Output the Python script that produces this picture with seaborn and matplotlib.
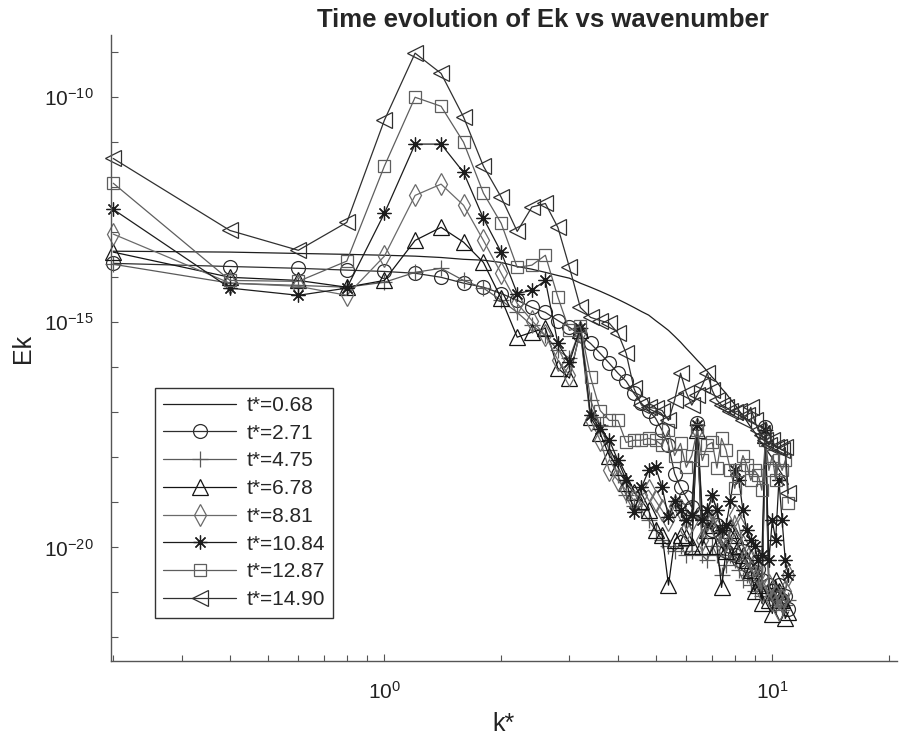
import numpy as np
import pandas as pd
import matplotlib
matplotlib.use("Agg")
import matplotlib.pyplot as plt
import matplotlib.ticker as mticker
import seaborn as sns

# wavenumbers k*
k = [0.2, 0.4, 0.6, 0.8, 1.0, 1.2, 1.4, 1.6, 1.8, 2.0,
     2.2, 2.4, 2.6, 2.8, 3.0, 3.2, 3.4, 3.6, 3.8, 4.0,
     4.2, 4.4, 4.6, 4.8, 5.0, 5.2, 5.4, 5.6, 5.8, 6.0,
     6.2, 6.4, 6.6, 6.8, 7.0, 7.2, 7.4, 7.6, 7.8, 8.0,
     8.2, 8.4, 8.6, 8.8, 9.0, 9.2, 9.4, 9.6, 9.8, 10.0,
     10.2, 10.4, 10.6, 10.8, 11.0]

# log10(Ek) for each time
e_068 = [-13.42, -13.44, -13.47, -13.49, -13.51, -13.53, -13.56, -13.60, -13.62, -13.67,
         -13.76, -13.82, -13.89, -13.96, -14.02, -14.13, -14.22, -14.31, -14.40, -14.49,
         -14.58, -14.67, -14.76, -14.84, -14.96, -15.07, -15.18, -15.31, -15.44, -15.58,
         -15.71, -15.84, -15.96, -16.09, -16.22, -16.33, -16.47, -16.58, -16.71, -16.82,
         -16.96, -17.07, -17.20, -17.33, -17.44, -17.58, -17.69, -17.80, -17.91, -18.02,
         -18.13, -18.27, -18.38, -18.49, -18.60]
e_271 = [-13.69, -13.76, -13.80, -13.84, -13.87, -13.91, -14.00, -14.13, -14.22, -14.36,
         -14.51, -14.67, -14.78, -14.96, -15.11, -15.29, -15.47, -15.69, -15.91, -16.13,
         -16.31, -16.58, -16.80, -16.96, -17.13, -17.40, -17.73, -18.36, -18.67, -18.89,
         -19.11, -17.24, -19.24, -19.40, -19.62, -19.51, -19.84, -20.07, -19.96, -20.18,
         -20.29, -20.07, -20.40, -20.51, -20.62, -20.47, -20.73, -17.33, -20.84, -20.96,
         -21.07, -20.84, -21.18, -21.07, -21.36]
e_475 = [-13.71, -14.13, -14.18, -14.22, -14.11, -13.89, -13.80, -14.07, -14.24, -14.51,
         -14.78, -15.07, -15.29, -15.62, -15.80, -15.13, -16.73, -17.29, -17.84, -18.40,
         -18.84, -19.07, -19.18, -19.40, -19.62, -19.84, -19.96, -20.07, -19.96, -20.18,
         -20.07, -17.29, -20.18, -20.29, -19.96, -20.18, -20.62, -20.40, -20.18, -20.29,
         -20.51, -20.73, -20.62, -20.84, -20.96, -20.73, -21.07, -17.40, -20.96, -21.18,
         -21.29, -21.07, -21.40, -21.29, -21.18]
e_678 = [-13.44, -14.00, -14.07, -14.22, -14.07, -13.18, -12.89, -13.22, -13.67, -14.47,
         -15.33, -15.22, -15.13, -16.02, -16.24, -15.18, -17.11, -17.47, -17.96, -18.22,
         -18.58, -18.78, -18.96, -19.18, -19.62, -19.73, -20.84, -19.84, -19.73, -19.78,
         -19.96, -17.40, -19.96, -19.62, -19.51, -19.96, -20.89, -20.07, -19.62, -19.73,
         -19.96, -20.18, -20.29, -20.51, -20.96, -20.84, -21.24, -17.51, -21.18, -21.47,
         -20.73, -20.96, -21.18, -21.58, -21.44]
e_881 = [-13.04, -14.13, -14.20, -14.40, -13.53, -12.18, -11.93, -12.40, -13.18, -13.91,
         -14.58, -14.96, -15.29, -15.84, -16.18, -15.22, -17.18, -17.62, -18.29, -18.51,
         -18.73, -18.96, -18.84, -18.73, -18.96, -19.18, -19.40, -19.07, -19.18, -19.62,
         -19.40, -17.36, -19.84, -19.40, -19.18, -19.62, -19.96, -19.84, -19.62, -19.29,
         -19.51, -19.96, -20.18, -20.29, -20.40, -20.62, -20.96, -17.44, -20.84, -21.18,
         -21.07, -21.40, -21.18, -20.96, -20.62]
e_1084 = [-12.49, -14.24, -14.40, -14.24, -12.58, -11.04, -11.04, -11.67, -12.69, -13.44,
          -14.36, -14.29, -14.07, -15.47, -15.89, -15.13, -17.07, -17.36, -17.62, -18.07,
          -18.51, -19.22, -18.67, -18.29, -18.22, -18.67, -19.33, -18.96, -19.18, -19.40,
          -19.29, -17.29, -19.40, -19.18, -18.84, -19.18, -19.62, -19.51, -18.96, -18.29,
          -18.51, -19.18, -19.62, -19.84, -19.96, -20.29, -20.18, -17.40, -20.29, -19.40,
          -19.84, -18.51, -19.40, -20.29, -20.62]
e_1287 = [-11.91, -14.07, -14.09, -13.64, -11.53, -10.00, -10.20, -11.00, -12.13, -12.80,
          -13.78, -13.73, -13.51, -14.44, -15.18, -15.09, -16.22, -16.96, -17.18, -17.18,
          -17.67, -17.62, -17.62, -17.58, -17.62, -17.73, -17.40, -17.96, -17.69, -18.22,
          -17.96, -17.40, -18.07, -17.73, -17.67, -18.24, -17.58, -17.84, -18.29, -18.69,
          -18.29, -17.96, -18.18, -18.51, -18.29, -18.40, -18.73, -17.62, -18.29, -17.96,
          -18.51, -18.07, -18.29, -18.07, -19.02]
e_1490 = [-11.36, -12.96, -13.40, -12.78, -10.51, -9.02, -9.47, -10.44, -11.53, -12.22,
          -12.98, -12.44, -12.36, -12.89, -13.78, -14.67, -14.89, -14.96, -15.02, -15.24,
          -15.69, -16.47, -16.84, -16.89, -16.91, -16.96, -17.18, -16.73, -16.13, -16.56,
          -16.84, -16.62, -16.40, -16.13, -16.51, -16.73, -16.84, -16.89, -16.96, -17.00,
          -16.96, -17.18, -17.07, -16.89, -17.18, -17.40, -17.51, -17.62, -17.73, -17.62,
          -17.78, -17.78, -17.84, -17.78, -18.80]

labels = ["t*=0.68", "t*=2.71", "t*=4.75", "t*=6.78",
          "t*=8.81", "t*=10.84", "t*=12.87", "t*=14.90"]
series = [e_068, e_271, e_475, e_678, e_881, e_1084, e_1287, e_1490]
markers = [None, "o", "+", "^", "d", (8, 2, 0), "s", "<"]
msizes = [0, 10, 11, 11, 11, 10, 9, 12]
colors = ["#1e1e1e", "#2e2e2e", "#5a5a5a", "#141414",
          "#6a6a6a", "#1c1c1c", "#5e5e5e", "#303030"]

sns.set_style("white")
plt.rcParams["font.family"] = ["Liberation Sans", "DejaVu Sans"]
plt.rcParams["mathtext.default"] = "regular"
plt.rcParams["axes.unicode_minus"] = False

fig = plt.figure(figsize=(9, 7.48), dpi=100)
ax = fig.add_axes([0.123, 0.116, 0.874, 0.837])
ax.set_xscale("log")
ax.set_yscale("log")

for lab, e, m, ms, c in zip(labels, series, markers, msizes, colors):
    df = pd.DataFrame({"k": k, "Ek": 10.0 ** np.array(e)})
    kw = dict(color=c, linewidth=0.9, label=lab, estimator=None, sort=False,
              ax=ax, clip_on=False)
    if m is not None:
        kw.update(marker=m, markersize=ms, markerfacecolor="none",
                  markeredgecolor=c, markeredgewidth=0.9)
    sns.lineplot(data=df, x="k", y="Ek", **kw)

ax.set_xlim(0.197, 21)
ax.set_ylim(10 ** -22.53, 10 ** -8.62)

ax.xaxis.set_major_locator(mticker.LogLocator(base=10, numticks=10))
ax.xaxis.set_minor_locator(mticker.LogLocator(base=10, subs=np.arange(2, 10), numticks=20))
ax.xaxis.set_minor_formatter(mticker.NullFormatter())
ax.yaxis.set_major_locator(mticker.LogLocator(base=10, numticks=40))
ax.yaxis.set_minor_locator(mticker.NullLocator())


def ylab(v, pos):
    p = int(round(np.log10(v)))
    return r"$10^{%d}$" % p if p % 5 == 0 else ""


ax.yaxis.set_major_formatter(mticker.FuncFormatter(ylab))
ax.xaxis.set_major_formatter(mticker.FuncFormatter(lambda v, p: r"$10^{%d}$" % round(np.log10(v))))

for s in ["top", "right"]:
    ax.spines[s].set_visible(False)
for s in ["left", "bottom"]:
    ax.spines[s].set_color("#555555")
    ax.spines[s].set_linewidth(1.0)
ax.tick_params(which="both", direction="in", bottom=True, left=True,
               colors="#555555", labelcolor="#222222", labelsize=15, width=0.8)
ax.tick_params(which="major", length=5)
ax.tick_params(which="minor", length=4)
ax.tick_params(axis="x", pad=14)
ax.tick_params(axis="y", pad=12.5)

ax.set_xlabel("k*", fontsize=18, color="#222222", labelpad=7)
ax.set_ylabel("Ek", fontsize=18, color="#222222", labelpad=6)
ax.set_title("Time evolution of Ek vs wavenumber", fontsize=18.5, fontweight="bold",
             x=0.55, pad=6)

leg = ax.legend(loc="upper left", bbox_to_anchor=(0.056, 0.437), fontsize=15,
                frameon=True, fancybox=False, edgecolor="#333333", framealpha=1,
                handlelength=3.5, labelspacing=0.42, borderpad=0.4,
                handletextpad=0.5, borderaxespad=0)
leg.get_frame().set_linewidth(1.0)

fig.savefig("out.png", dpi=100)
